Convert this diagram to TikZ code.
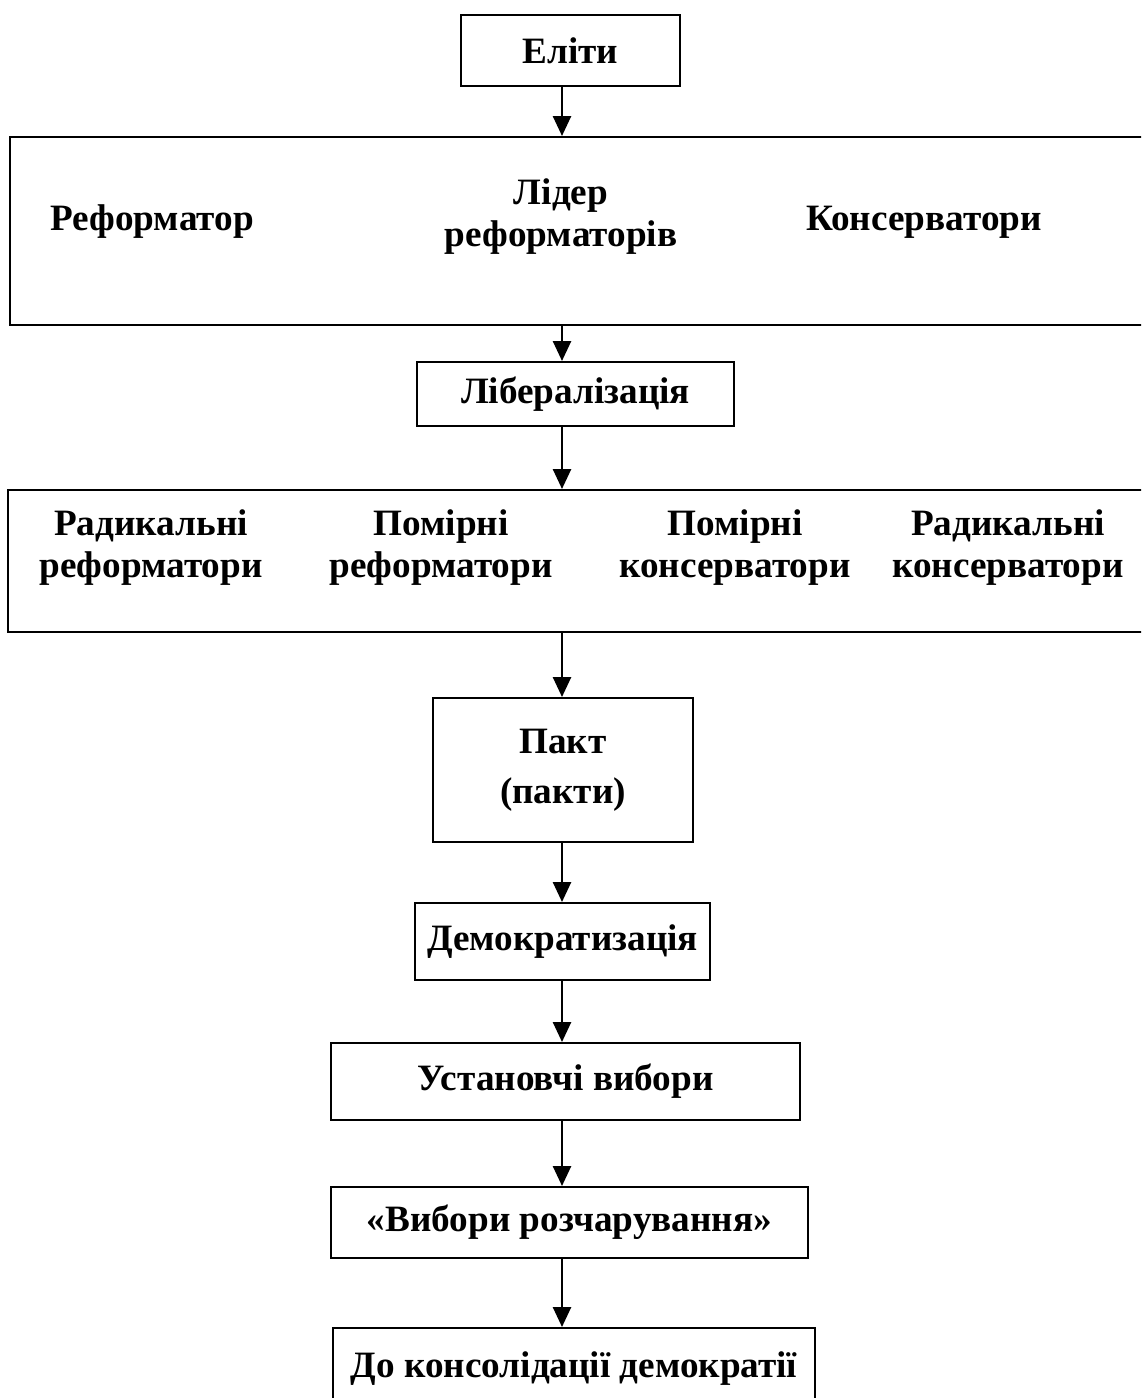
\documentclass[tikz,border=0pt]{standalone}
\usepackage{fontspec}
\setmainfont{Liberation Serif}
\usetikzlibrary{arrows.meta}

\tikzset{
  blok/.style={draw, line width=1pt, inner sep=0pt, align=center,
    font=\fontsize{18.6}{21}\selectfont\bfseries},
  napys/.style={inner sep=0pt, align=center,
    font=\fontsize{18.6}{21}\selectfont\bfseries},
  strilka/.style={line width=1.3pt, -{Triangle[width=9pt,length=10pt]}}
}

\begin{document}
\begin{tikzpicture}[x=0.5pt,y=-0.5pt]
        \useasboundingbox (0,0) rectangle (1141,1398);
        \clip (0,0) rectangle (1141,1398);
        \coordinate (vis) at (562,0);

        % elites and the first row
        \node[blok, minimum width=109.5pt, minimum height=35.5pt] (eliti) at (570.5,50.5) {Еліти};
        \node[blok, minimum width=575pt, minimum height=94pt] (riven1) at (585,231) {};
        \node[napys] (reform) at (152,222) {Реформатор};
        \node[napys] (lider) at (561,217) {Лідер\\реформаторів};
        \node[napys] (kons) at (924,222) {Консерватори};

        \node[blok, minimum width=158.5pt, minimum height=32pt] (liber) at (575.5,394) {Лібералізація};

        % second row
        \node[blok, minimum width=576pt, minimum height=71pt] (riven2) at (584,561) {};
        \node[napys] (radref) at (151,548) {Радикальні\\реформатори};
        \node[napys] (pomref) at (441,548) {Помірні\\реформатори};
        \node[napys] (pomkons) at (735,548) {Помірні\\консерватори};
        \node[napys] (radkons) at (1008,548) {Радикальні\\консерватори};

        \node[blok, minimum width=130pt, minimum height=72pt] (pakt) at (563,770) {Пакт\\[4pt](пакти)};
        \node[blok, minimum width=147.5pt, minimum height=38.5pt] (demokr) at (562.5,941.5) {Демократизація};
        \node[blok, minimum width=234.5pt, minimum height=38.5pt] (ustan) at (565.5,1081.5) {Установчі вибори};
        \node[blok, minimum width=238.5pt, minimum height=35.5pt] (rozch) at (569.5,1222.5) {«Вибори розчарування»};
        \node[blok, minimum width=241pt, minimum height=41pt] (konsol) at (574,1369) {До консолідації демократії};

        % arrows down the middle
        \draw[strilka] (eliti.south -| vis) -- (riven1.north -| vis);
        \draw[strilka] (riven1.south -| vis) -- (liber.north -| vis);
        \draw[strilka] (liber.south -| vis) -- (riven2.north -| vis);
        \draw[strilka] (riven2.south -| vis) -- (pakt.north -| vis);
        \draw[strilka] (pakt.south -| vis) -- (demokr.north -| vis);
        \draw[strilka] (demokr.south -| vis) -- (ustan.north -| vis);
        \draw[strilka] (ustan.south -| vis) -- (rozch.north -| vis);
        \draw[strilka] (rozch.south -| vis) -- (konsol.north -| vis);
\end{tikzpicture}
\end{document}
